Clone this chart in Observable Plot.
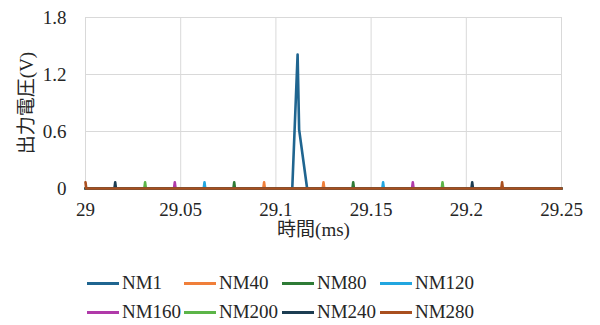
<!DOCTYPE html>
<html><head><meta charset="utf-8">
<script src="https://cdn.jsdelivr.net/npm/d3@7"></script>
<script src="https://cdn.jsdelivr.net/npm/@observablehq/plot@0.6"></script>
<style>
body{margin:0;background:#fff;}
#wrap{position:relative;width:600px;height:325px;overflow:hidden;font-family:"Liberation Serif","Times New Roman","DejaVu Serif",serif;}
#wrap svg, #wrap svg text{font-family:"Liberation Serif","Times New Roman","DejaVu Serif","Noto Sans CJK JP",serif !important;}
.lg{position:absolute;display:flex;align-items:center;font-size:19px;color:#262626;white-space:nowrap;}
.sw{width:32px;height:3px;margin-right:3px;}
</style></head>
<body><div id="wrap"></div>
<script>
const seriesNames = ["NM1","NM40","NM80","NM120","NM160","NM200","NM240","NM280"];
const seriesColors = ["#1f6590","#f07f3a","#2e7b36","#22a6e0","#b03aa9","#5cb548","#1c3d52","#a94f1f"];
const xTicks = [29, 29.05, 29.1, 29.15, 29.2, 29.25];
const yTicks = [0, 0.6, 1.2, 1.8];
const xTitle = "時間(ms)";
const yTitle = "出力電圧(V)";

const NM1_t   = [29, 29.1086, 29.1114, 29.1122, 29.1164, 29.25];
const NM1_v   = [0, 0, 1.41, 0.62, 0, 0];
const NM40_t  = [29, 29.0934, 29.0938, 29.0942, 29.1246, 29.125, 29.1254, 29.25];
const NM40_v  = [0, 0, 0.065, 0, 0, 0.065, 0, 0];
const NM80_t  = [29, 29.0777, 29.0781, 29.0785, 29.1402, 29.1406, 29.141, 29.25];
const NM80_v  = [0, 0, 0.065, 0, 0, 0.065, 0, 0];
const NM120_t = [29, 29.0621, 29.0625, 29.0629, 29.1559, 29.1563, 29.1567, 29.25];
const NM120_v = [0, 0, 0.065, 0, 0, 0.065, 0, 0];
const NM160_t = [29, 29.0465, 29.0469, 29.0473, 29.1715, 29.1719, 29.1723, 29.25];
const NM160_v = [0, 0, 0.065, 0, 0, 0.065, 0, 0];
const NM200_t = [29, 29.0309, 29.0313, 29.0317, 29.1871, 29.1875, 29.1879, 29.25];
const NM200_v = [0, 0, 0.065, 0, 0, 0.065, 0, 0];
const NM240_t = [29, 29.0152, 29.0156, 29.016, 29.2027, 29.2031, 29.2035, 29.25];
const NM240_v = [0, 0, 0.065, 0, 0, 0.065, 0, 0];
const NM280_t = [29, 29.0004, 29.2184, 29.2188, 29.2192, 29.25];
const NM280_v = [0.065, 0, 0, 0.065, 0, 0];

const seriesT = [NM1_t,NM40_t,NM80_t,NM120_t,NM160_t,NM200_t,NM240_t,NM280_t];
const seriesV = [NM1_v,NM40_v,NM80_v,NM120_v,NM160_v,NM200_v,NM240_v,NM280_v];
const rows = [];
seriesNames.forEach((s,i)=>seriesT[i].forEach((t,j)=>rows.push({s, t, v: seriesV[i][j]})));

const fmt = d => String(+d.toFixed(2));
const chart = Plot.plot({
  width: 600, height: 250,
  marginLeft: 85, marginRight: 39, marginTop: 17, marginBottom: 62,
  style: {fontSize: "19px", color: "#262626", background: "#fff"},
  x: {domain: [29, 29.25]},
  y: {domain: [0, 1.8]},
  color: {domain: seriesNames, range: seriesColors},
  marks: [
    Plot.gridX(xTicks, {stroke: "#d9d9d9", strokeOpacity: 1, strokeWidth: 1}),
    Plot.gridY(yTicks, {stroke: "#d9d9d9", strokeOpacity: 1, strokeWidth: 1}),
    Plot.axisX(xTicks, {tickSize: 0, tickPadding: 14, tickFormat: fmt, label: null}),
    Plot.axisY(yTicks, {tickSize: 0, tickPadding: 19, tickFormat: fmt, label: yTitle, labelAnchor: "center", labelArrow: "none", labelOffset: 66}),
    Plot.text([xTitle], {text: d => d, frameAnchor: "bottom", lineAnchor: "top", dx: -10, dy: 34, fontSize: 19, fill: "#262626"}),
    Plot.line(rows, {x: "t", y: "v", z: "s", stroke: "s", strokeWidth: 2.6, strokeLinejoin: "round"})
  ]
});
const wrap = document.getElementById("wrap");
wrap.appendChild(chart);

const colX = [87, 184, 282, 380];
const rowY = [283, 312];
seriesNames.forEach((s,i)=>{
  const d = document.createElement("div");
  d.className = "lg";
  d.style.left = colX[i%4] + "px";
  d.style.top = (rowY[Math.floor(i/4)] - 12) + "px";
  d.style.height = "24px";
  d.innerHTML = `<span class="sw" style="background:${seriesColors[i]}"></span><span>${s}</span>`;
  wrap.appendChild(d);
});
</script></body></html>
